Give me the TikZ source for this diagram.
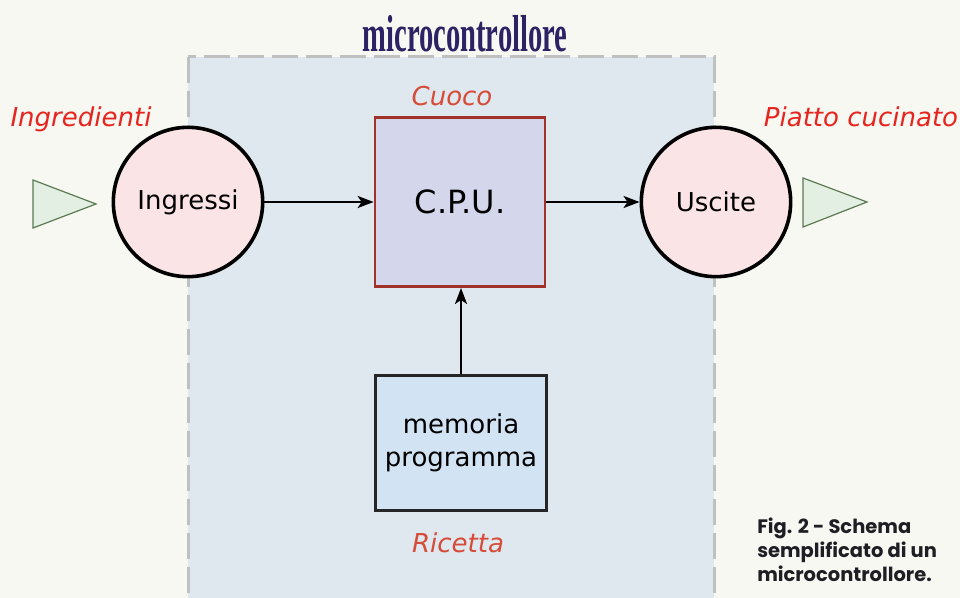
\documentclass[tikz,border=0pt]{standalone}
\usepackage{fontspec}
\setmainfont{DejaVu Sans}
\newfontfamily\titlefont{Liberation Serif}
\newfontfamily\capfont{Poppins}
\usepackage{tikz}
\usetikzlibrary{arrows.meta, positioning}

\definecolor{bgcream}{RGB}{248,248,243}
\definecolor{mcufill}{RGB}{223,231,239}
\definecolor{mcudash}{RGB}{192,192,192}
\definecolor{titleblue}{RGB}{44,34,100}
\definecolor{labred}{RGB}{232,36,30}
\definecolor{labrust}{RGB}{214,76,56}
\definecolor{bubble}{RGB}{251,228,230}
\definecolor{cpufill}{RGB}{212,214,236}
\definecolor{cpuedge}{RGB}{160,50,42}
\definecolor{memfill}{RGB}{210,227,243}
\definecolor{triedge}{RGB}{90,122,80}
\definecolor{trifill}{RGB}{228,239,228}
\definecolor{capink}{RGB}{30,30,36}

\begin{document}
\begin{tikzpicture}[x=0.75pt,y=0.75pt,yscale=-1,xscale=1,
    port/.style={circle, draw=black, line width=2.7pt, fill=bubble, minimum size=112pt, inner sep=0pt, font=\fontsize{19.5}{24}\selectfont},
    cpubox/.style={draw=cpuedge, line width=2pt, fill=cpufill, minimum width=127.5pt, minimum height=127pt, inner sep=0pt, font=\fontsize{24}{28}\selectfont},
    membox/.style={draw=black!85, line width=2pt, fill=memfill, minimum width=128pt, minimum height=101pt, inner sep=0pt, align=center, font=\fontsize{19.5}{25}\selectfont},
    tag/.style={font=\fontsize{19.5}{24}\selectfont\itshape, inner sep=0.75pt},
    flow/.style={line width=1.7pt, -{Stealth[length=12pt, width=9pt, inset=3pt]}},
    feed/.style={draw=triedge, line width=0.9pt, fill=trifill, line join=miter}]
  \useasboundingbox (0,0) rectangle (960,598);
  \clip (0,0) rectangle (960,598);
  \fill[bgcream] (0,0) rectangle (960,598);
  %Shape: microcontroller frame
  \draw[mcudash, fill=mcufill, line width=2.25pt, dash pattern=on 19.5pt off 6pt] (188,57) rectangle (714,640);
  % Text Node
  \node (title) at (465,34) {\titlefont\bfseries\color{titleblue}\fontsize{39}{40}\selectfont\scalebox{0.55}[1]{microcontrollore}};

  %Shape: input / output triangles
  \draw[feed] (33,180) -- (96,204) -- (33,228) -- cycle;
  \draw[feed] (803,178) -- (867,202) -- (803,227) -- cycle;

  % Blocks
  \node[port] (ingressi) at (188,202) {Ingressi};
  \node[port] (uscite) at (716,202) {Uscite};
  \node[cpubox] (cpu) at (460,202) {C.P.U.};
  \node[membox] (mem) at (461,443) {memoria\\programma};

  % Connectors
  \draw[flow] (ingressi) -- (cpu);
  \draw[flow] (cpu) -- (uscite);
  \draw[flow] (mem) -- (mem |- cpu.south);

  % Text Node
  \node[tag, text=labred] (ingredienti) at (81,119) {Ingredienti};
  \node[tag, text=labred] (piatto) at (861,117) {Piatto cucinato};
  \node[tag, text=labrust] (cuoco) at (452,96) {Cuoco};
  \node[tag, text=labrust] (ricetta) at (458,543) {Ricetta};
  % Text Node
  \node[anchor=north west, inner sep=0pt, align=left, text=capink, font=\capfont\bfseries\fontsize{14.6}{18}\selectfont] (caption) at (757,518) {Fig. 2 - Schema\\semplificato di un\\microcontrollore.};
\end{tikzpicture}
\end{document}
